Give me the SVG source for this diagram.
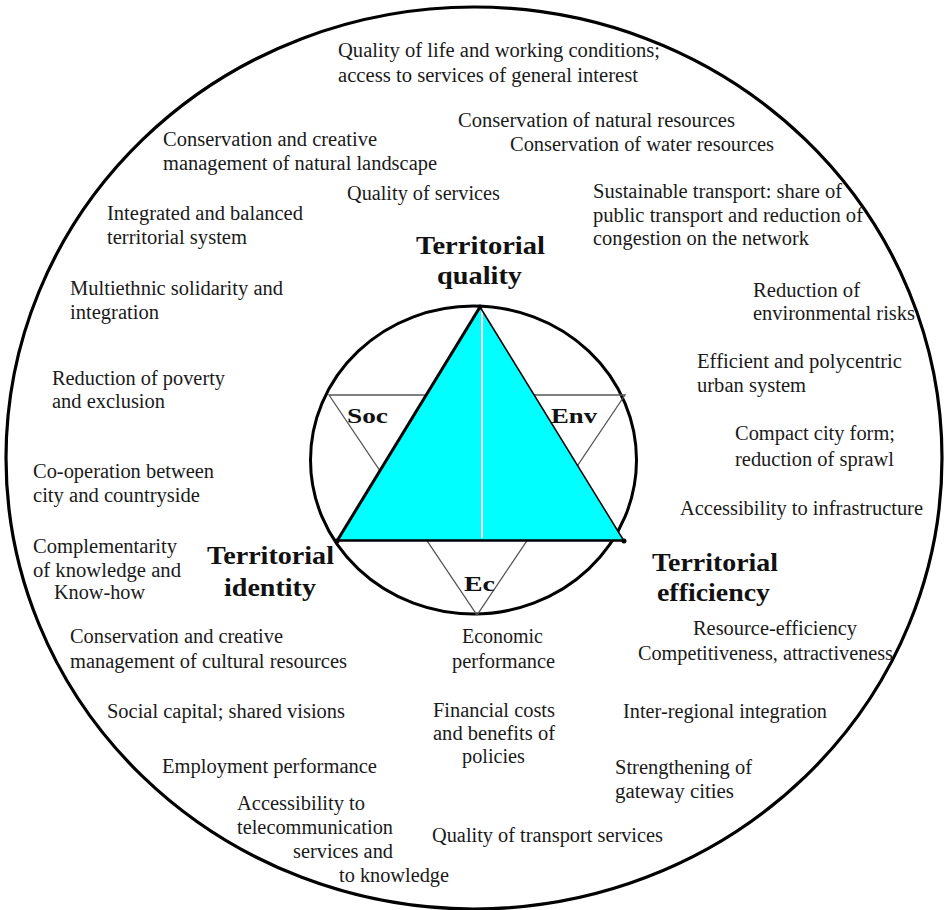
<svg xmlns="http://www.w3.org/2000/svg" width="946" height="910" viewBox="0 0 946 910">
<style>
.t{font-family:"Liberation Serif","Times New Roman",serif;font-size:20px;fill:#1a1a1a}
.b{font-family:"Liberation Serif","Times New Roman",serif;font-size:25px;font-weight:bold;fill:#111}
.s{font-family:"Liberation Serif","Times New Roman",serif;font-size:22px;font-weight:bold;fill:#111}
</style>
<rect width="946" height="910" fill="#fff"/>
<g id="outer-circle"><ellipse cx="474" cy="458" rx="468" ry="451" fill="none" stroke="#000" stroke-width="3.2"/></g>
<g id="core">
<ellipse cx="473.5" cy="460" rx="163" ry="154" fill="#fff" stroke="#000" stroke-width="3"/>
<polygon points="329,395 625,395 477,615" fill="none" stroke="#555" stroke-width="1.3"/>
<polygon points="480,307 337,540 623,540" fill="#00ffff"/>
<line x1="482" y1="310" x2="482" y2="538" stroke="#fff" stroke-width="2"/>
<line x1="337" y1="541" x2="480" y2="307" stroke="#000" stroke-width="3"/>
<line x1="480" y1="307" x2="624" y2="541" stroke="#000" stroke-width="1.5"/>
<line x1="336" y1="540.5" x2="625" y2="540.5" stroke="#000" stroke-width="2.5"/>
<circle cx="480" cy="307" r="2.5" fill="#000"/>
<circle cx="337" cy="541" r="2.5" fill="#000"/>
<circle cx="624" cy="541" r="2.5" fill="#000"/>
<text class="s" x="347" y="423" textLength="41" lengthAdjust="spacingAndGlyphs">Soc</text>
<text class="s" x="551" y="423" textLength="46" lengthAdjust="spacingAndGlyphs">Env</text>
<text class="s" x="464" y="591" textLength="31" lengthAdjust="spacingAndGlyphs">Ec</text>
</g>
<g id="pole-quality">
<text class="b" x="416" y="254" textLength="129" lengthAdjust="spacingAndGlyphs">Territorial</text>
<text class="b" x="437" y="284" textLength="85" lengthAdjust="spacingAndGlyphs">quality</text>
</g>
<g id="pole-identity">
<text class="b" x="207" y="564" textLength="127" lengthAdjust="spacingAndGlyphs">Territorial</text>
<text class="b" x="224" y="596" textLength="92" lengthAdjust="spacingAndGlyphs">identity</text>
</g>
<g id="pole-efficiency">
<text class="b" x="652" y="571" textLength="126" lengthAdjust="spacingAndGlyphs">Territorial</text>
<text class="b" x="657" y="601" textLength="113" lengthAdjust="spacingAndGlyphs">efficiency</text>
</g>
<g id="labels">
<text class="t" x="338" y="57" textLength="322" lengthAdjust="spacingAndGlyphs">Quality of life and working conditions;</text>
<text class="t" x="338" y="82" textLength="300" lengthAdjust="spacingAndGlyphs">access to services of general interest</text>
<text class="t" x="458" y="127" textLength="277" lengthAdjust="spacingAndGlyphs">Conservation of natural resources</text>
<text class="t" x="510" y="151" textLength="264" lengthAdjust="spacingAndGlyphs">Conservation of water resources</text>
<text class="t" x="163" y="146" textLength="214" lengthAdjust="spacingAndGlyphs">Conservation and creative</text>
<text class="t" x="163" y="170" textLength="274" lengthAdjust="spacingAndGlyphs">management of natural landscape</text>
<text class="t" x="347" y="200" textLength="153" lengthAdjust="spacingAndGlyphs">Quality of services</text>
<text class="t" x="107" y="220" textLength="196" lengthAdjust="spacingAndGlyphs">Integrated and balanced</text>
<text class="t" x="107" y="244" textLength="140" lengthAdjust="spacingAndGlyphs">territorial system</text>
<text class="t" x="70" y="295" textLength="213" lengthAdjust="spacingAndGlyphs">Multiethnic solidarity and</text>
<text class="t" x="70" y="319" textLength="89" lengthAdjust="spacingAndGlyphs">integration</text>
<text class="t" x="593" y="198" textLength="249" lengthAdjust="spacingAndGlyphs">Sustainable transport: share of</text>
<text class="t" x="593" y="222" textLength="270" lengthAdjust="spacingAndGlyphs">public transport and reduction of</text>
<text class="t" x="593" y="245" textLength="216" lengthAdjust="spacingAndGlyphs">congestion on the network</text>
<text class="t" x="753" y="297" textLength="107" lengthAdjust="spacingAndGlyphs">Reduction of</text>
<text class="t" x="753" y="320" textLength="162" lengthAdjust="spacingAndGlyphs">environmental risks</text>
<text class="t" x="697" y="368" textLength="205" lengthAdjust="spacingAndGlyphs">Efficient and polycentric</text>
<text class="t" x="697" y="392" textLength="109" lengthAdjust="spacingAndGlyphs">urban system</text>
<text class="t" x="735" y="440" textLength="160" lengthAdjust="spacingAndGlyphs">Compact city form;</text>
<text class="t" x="735" y="466" textLength="159" lengthAdjust="spacingAndGlyphs">reduction of sprawl</text>
<text class="t" x="680" y="515" textLength="243" lengthAdjust="spacingAndGlyphs">Accessibility to infrastructure</text>
<text class="t" x="52" y="385" textLength="173" lengthAdjust="spacingAndGlyphs">Reduction of poverty</text>
<text class="t" x="52" y="408" textLength="113" lengthAdjust="spacingAndGlyphs">and exclusion</text>
<text class="t" x="33" y="478" textLength="181" lengthAdjust="spacingAndGlyphs">Co-operation between</text>
<text class="t" x="33" y="502" textLength="167" lengthAdjust="spacingAndGlyphs">city and countryside</text>
<text class="t" x="33" y="553" textLength="144" lengthAdjust="spacingAndGlyphs">Complementarity</text>
<text class="t" x="33" y="577" textLength="148" lengthAdjust="spacingAndGlyphs">of knowledge and</text>
<text class="t" x="54" y="599" textLength="91" lengthAdjust="spacingAndGlyphs">Know-how</text>
<text class="t" x="70" y="643" textLength="213" lengthAdjust="spacingAndGlyphs">Conservation and creative</text>
<text class="t" x="70" y="668" textLength="277" lengthAdjust="spacingAndGlyphs">management of cultural resources</text>
<text class="t" x="107" y="718" textLength="238" lengthAdjust="spacingAndGlyphs">Social capital; shared visions</text>
<text class="t" x="162" y="773" textLength="215" lengthAdjust="spacingAndGlyphs">Employment performance</text>
<text class="t" x="237" y="810" textLength="128" lengthAdjust="spacingAndGlyphs">Accessibility to</text>
<text class="t" x="237" y="834" textLength="156" lengthAdjust="spacingAndGlyphs">telecommunication</text>
<text class="t" x="293" y="858" textLength="100" lengthAdjust="spacingAndGlyphs">services and</text>
<text class="t" x="339" y="882" textLength="110" lengthAdjust="spacingAndGlyphs">to knowledge</text>
<text class="t" x="432" y="842" textLength="231" lengthAdjust="spacingAndGlyphs">Quality of transport services</text>
<text class="t" x="462" y="643" textLength="81" lengthAdjust="spacingAndGlyphs">Economic</text>
<text class="t" x="452" y="668" textLength="103" lengthAdjust="spacingAndGlyphs">performance</text>
<text class="t" x="433" y="717" textLength="122" lengthAdjust="spacingAndGlyphs">Financial costs</text>
<text class="t" x="433" y="740" textLength="122" lengthAdjust="spacingAndGlyphs">and benefits of</text>
<text class="t" x="462" y="763" textLength="63" lengthAdjust="spacingAndGlyphs">policies</text>
<text class="t" x="693" y="635" textLength="164" lengthAdjust="spacingAndGlyphs">Resource-efficiency</text>
<text class="t" x="638" y="660" textLength="255" lengthAdjust="spacingAndGlyphs">Competitiveness, attractiveness</text>
<text class="t" x="623" y="718" textLength="204" lengthAdjust="spacingAndGlyphs">Inter-regional integration</text>
<text class="t" x="615" y="774" textLength="137" lengthAdjust="spacingAndGlyphs">Strengthening of</text>
<text class="t" x="615" y="798" textLength="119" lengthAdjust="spacingAndGlyphs">gateway cities</text>
</g>
<g id="connectors"></g>
</svg>
